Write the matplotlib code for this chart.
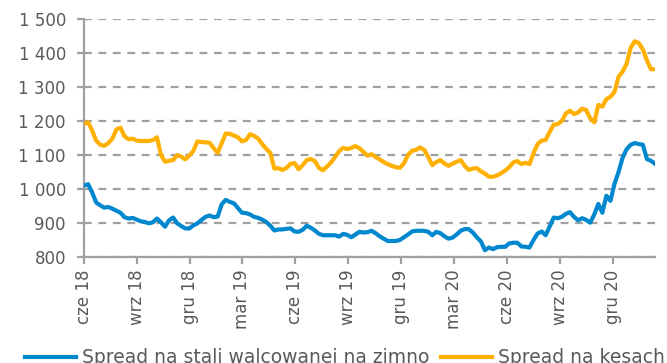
import matplotlib
matplotlib.use("Agg")
import matplotlib.pyplot as plt
import pandas as pd

# Weekly spreads, PLN/t, starting June 2018
start_date = "2018-06-01"

spread_zimno = [
    1010, 1014, 990, 960, 952, 945, 947, 942, 936, 930,
    917, 913, 915, 910, 905, 903, 899, 902, 913, 902,
    889, 908, 916, 899, 891, 884, 884, 893, 899, 909,
    918, 922, 917, 919, 955, 968, 962, 958, 944, 930,
    929, 925, 918, 915, 910, 903, 892, 878, 881, 881,
    883, 884, 875, 874, 880, 892, 886, 878, 868, 864,
    864, 864, 864, 860, 868, 865, 858, 866, 874, 872,
    873, 877, 870, 861, 854, 847, 847, 847, 850, 858,
    866, 875, 877, 877, 877, 874, 864, 874, 870, 861,
    854, 857, 866, 877, 882, 882, 872, 858, 846, 820,
    828, 823, 829, 830, 830, 840, 842, 842, 831, 830,
    828, 850, 869, 875, 864, 890, 916, 914, 918, 927,
    932, 918, 908, 914, 909, 901, 925, 956, 930, 980,
    965, 1015, 1050, 1092, 1117, 1130, 1135, 1132, 1130, 1088,
    1083, 1074,
]

spread_kesy = [
    1192, 1196, 1172, 1142, 1130, 1127, 1135, 1148, 1175, 1180,
    1155, 1146, 1148, 1142, 1141, 1141, 1141, 1144, 1152, 1100,
    1080, 1083, 1085, 1100, 1095, 1087, 1098, 1112, 1140, 1138,
    1137, 1136, 1120, 1106, 1135, 1163, 1162, 1157, 1152, 1140,
    1144, 1161, 1156, 1148, 1132, 1118, 1106, 1060, 1061, 1056,
    1062, 1074, 1076, 1058, 1070, 1085, 1088, 1082, 1062, 1055,
    1066, 1078, 1094, 1111, 1121, 1117, 1121, 1126, 1120, 1109,
    1098, 1102, 1094, 1087, 1079, 1073, 1068, 1064, 1062, 1075,
    1100, 1112, 1115, 1122, 1115, 1094, 1070, 1079, 1085, 1075,
    1068, 1074, 1080, 1085, 1068, 1056, 1060, 1061, 1052, 1045,
    1036, 1036, 1040, 1046, 1054, 1064, 1078, 1082, 1073, 1077,
    1073, 1105, 1132, 1142, 1144, 1168, 1189, 1191, 1200, 1222,
    1230, 1220, 1225, 1236, 1232, 1208, 1196, 1247, 1242, 1264,
    1271, 1285, 1330, 1345, 1368, 1415, 1434, 1429, 1410, 1378,
    1352, 1352,
]

series_labels = ["Spread na stali walcowanej na zimno", "Spread na kesach"]

tick_dates = ["2018-06-01", "2018-09-01", "2018-12-01", "2019-03-01",
              "2019-06-01", "2019-09-01", "2019-12-01", "2020-03-01",
              "2020-06-01", "2020-09-01", "2020-12-01"]
tick_labels = ["cze 18", "wrz 18", "gru 18", "mar 19", "cze 19", "wrz 19",
               "gru 19", "mar 20", "cze 20", "wrz 20", "gru 20"]

y_ticks = [800, 900, 1000, 1100, 1200, 1300, 1400, 1500]

dates = pd.date_range(start_date, periods=len(spread_zimno), freq="7D")

BLUE = "#0088CE"
ORANGE = "#FFB000"
GRID = "#A0A0A0"
TEXT = "#595959"

plt.rcParams["font.family"] = ["DejaVu Sans"]

fig = plt.figure(figsize=(6.67, 3.63), dpi=100)
ax = fig.add_axes([0.126, 0.292, 0.856, 0.656])

ax.plot(dates, spread_zimno, color=BLUE, lw=3, label=series_labels[0],
        solid_joinstyle="round", zorder=3)
ax.plot(dates, spread_kesy, color=ORANGE, lw=3, label=series_labels[1],
        solid_joinstyle="round", zorder=3)

ax.set_xlim(dates[0], dates[-1])
ax.set_ylim(800, 1500)
ax.set_yticks(y_ticks)
ax.set_yticklabels([f"{v:,}".replace(",", " ") for v in y_ticks])
ax.set_xticks(pd.to_datetime(tick_dates))
ax.set_xticklabels(tick_labels, rotation=90)

ax.grid(axis="y", color=GRID, lw=1.6, linestyle=(0, (3.5, 3)))
ax.set_axisbelow(True)
for s in ("top", "right"):
    ax.spines[s].set_visible(False)
for s in ("left", "bottom"):
    ax.spines[s].set_color(GRID)
    ax.spines[s].set_linewidth(1.6)
ax.tick_params(axis="both", colors=GRID, width=1.6, length=5,
               labelcolor=TEXT, labelsize=12)
ax.tick_params(axis="y", pad=8)
ax.tick_params(axis="x", pad=4)

leg = fig.legend(loc="upper left", bbox_to_anchor=(0.0375, 0.04), ncol=2,
                 frameon=False, fontsize=13.5, handlelength=2.72,
                 columnspacing=0.64, handletextpad=0.32, labelcolor=TEXT,
                 borderaxespad=0, borderpad=0)

fig.savefig("out.png", dpi=100)
